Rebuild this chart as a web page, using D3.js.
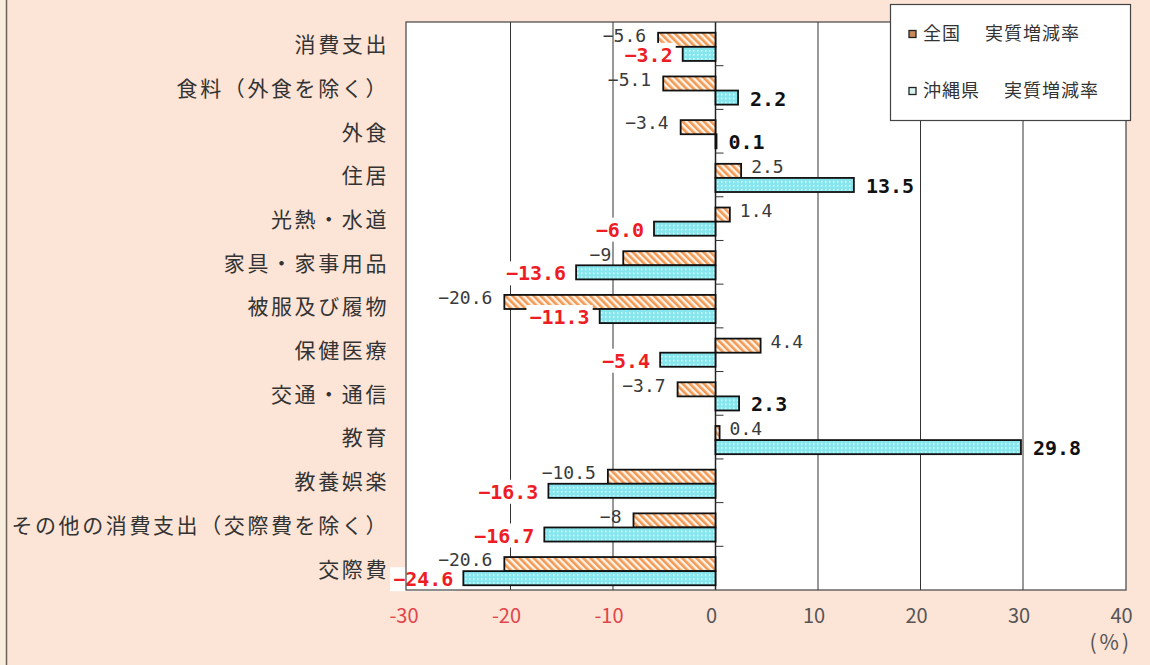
<!DOCTYPE html>
<html>
<head>
<meta charset="utf-8">
<script src="https://cdnjs.cloudflare.com/ajax/libs/d3/7.8.5/d3.min.js"></script>
<style>
  body { margin: 0; padding: 0; background: #fce4d6; }
  svg { display: block; }
</style>
</head>
<body>
<svg id="chart" width="1150" height="665"></svg>
<script>
var categories = ['消費支出', '食料（外食を除く）', '外食', '住居', '光熱・水道', '家具・家事用品',
  '被服及び履物', '保健医療', '交通・通信', '教育', '教養娯楽', 'その他の消費支出（交際費を除く）', '交際費'];
var nationalRates = [-5.6, -5.1, -3.4, 2.5, 1.4, -9, -20.6, 4.4, -3.7, 0.4, -10.5, -8, -20.6];
var okinawaRates = [-3.2, 2.2, 0.1, 13.5, -6.0, -13.6, -11.3, -5.4, 2.3, 29.8, -16.3, -16.7, -24.6];
var xTicks = [-30, -20, -10, 0, 10, 20, 30, 40];
var seriesKeys = ['national', 'okinawa'];
var seriesNames = ['全国　 実質増減率', '沖縄県　 実質増減率'];

var svg = d3.select('#chart');
var jpFont = '"Noto Sans CJK JP", "Noto Sans", sans-serif';
var numFont = '"DejaVu Sans Mono", monospace';

var plot = { left: 406, right: 1126, top: 22, bottom: 590 };

var x = d3.scaleLinear().domain([-30, 40]).range([408, 1125.5]);
var y = d3.scaleBand().domain(categories).range([plot.top, plot.bottom]);
var ySub = d3.scaleBand().domain(seriesKeys)
  .range([0, y.bandwidth()]).paddingOuter(0.55);

function minus(s) {
  return s.replace('-', '\u2212');
}

function patterns() {
  var defs = svg.append('defs');
  var hatch = defs.append('pattern')
    .attr('id', 'hatch')
    .attr('patternUnits', 'userSpaceOnUse')
    .attr('width', 5).attr('height', 5)
    .attr('patternTransform', 'rotate(-45)');
  hatch.append('rect').attr('width', 5).attr('height', 5).attr('fill', '#fff3e8');
  hatch.append('rect').attr('width', 2.6).attr('height', 5).attr('fill', '#f09a55');

  var dots = defs.append('pattern')
    .attr('id', 'dots')
    .attr('patternUnits', 'userSpaceOnUse')
    .attr('width', 4).attr('height', 4);
  dots.append('rect').attr('width', 4).attr('height', 4).attr('fill', '#86e6ee');
  dots.append('rect').attr('x', 1).attr('y', 1).attr('width', 1.5).attr('height', 1.5).attr('fill', '#e8fbfd');
}

function background() {
  svg.append('rect').attr('width', 1150).attr('height', 665).attr('fill', '#fce4d6');
  svg.append('rect').attr('width', 6).attr('height', 665).attr('fill', '#f8eedd');
  svg.append('line')
    .attr('x1', 6.5).attr('x2', 6.5).attr('y1', 0).attr('y2', 665)
    .attr('stroke', '#6b6258').attr('stroke-width', 1.5);
  svg.append('rect')
    .attr('x', plot.left).attr('y', plot.top)
    .attr('width', plot.right - plot.left).attr('height', plot.bottom - plot.top)
    .attr('fill', '#ffffff');
}

function grid() {
  svg.append('g').selectAll('line')
    .data(xTicks.filter(function(d) { return d > -30 && d < 40; }))
    .enter().append('line')
    .attr('x1', function(d) { return x(d); })
    .attr('x2', function(d) { return x(d); })
    .attr('y1', plot.top).attr('y2', plot.bottom)
    .attr('stroke', function(d) { return d === 0 ? '#222' : '#333'; })
    .attr('stroke-width', function(d) { return d === 0 ? 1.5 : 1; });

  // category ticks on the zero line
  svg.append('g').selectAll('line')
    .data(categories.slice(1))
    .enter().append('line')
    .attr('x1', x(0)).attr('x2', x(0) + 8)
    .attr('y1', function(d) { return y(d); })
    .attr('y2', function(d) { return y(d); })
    .attr('stroke', '#333');
}

function frame() {
  svg.append('rect')
    .attr('x', plot.left).attr('y', plot.top)
    .attr('width', plot.right - plot.left).attr('height', plot.bottom - plot.top)
    .attr('fill', 'none').attr('stroke', '#444').attr('stroke-width', 1.2);
}

function bars() {
  var rows = categories.map(function(c, i) {
    return { cat: c, national: nationalRates[i], okinawa: okinawaRates[i] };
  });
  var g = svg.append('g').selectAll('g')
    .data(rows).enter().append('g')
    .attr('transform', function(d) { return 'translate(0,' + (y(d.cat) + 3) + ')'; });

  g.selectAll('rect')
    .data(function(d) { return seriesKeys.map(function(k) { return { key: k, v: d[k] }; }); })
    .enter().append('rect')
    .attr('x', function(d) { return x(Math.min(0, d.v)); })
    .attr('y', function(d) { return ySub(d.key); })
    .attr('width', function(d) { return Math.abs(x(d.v) - x(0)); })
    .attr('height', ySub.bandwidth())
    .attr('fill', function(d) { return d.key === 'national' ? 'url(#hatch)' : 'url(#dots)'; })
    .attr('stroke', '#111')
    .attr('stroke-width', 1.8);

  // national labels
  g.append('text')
    .attr('x', function(d) { return d.national < 0 ? x(d.national) - 12 : x(d.national) + 10; })
    .attr('y', function(d) { return ySub('national') + ySub.bandwidth() / 2 - 4; })
    .attr('dy', '0.35em')
    .attr('text-anchor', function(d) { return d.national < 0 ? 'end' : 'start'; })
    .style('font-family', numFont)
    .style('font-size', '18px')
    .style('fill', '#3a3a3a')
    .text(function(d) { return minus(String(d.national)); });

  // okinawa labels with white box
  var ok = g.append('g');
  var okText = ok.append('text')
    .attr('x', function(d) { return d.okinawa < 0 ? x(d.okinawa) - 10 : x(d.okinawa) + 12; })
    .attr('y', function(d) { return ySub('okinawa') + ySub.bandwidth() / 2 + 1; })
    .attr('dy', '0.35em')
    .attr('text-anchor', function(d) { return d.okinawa < 0 ? 'end' : 'start'; })
    .style('font-family', numFont)
    .style('font-size', '20px')
    .style('font-weight', 'bold')
    .style('fill', function(d) { return d.okinawa < 0 ? '#ee1c25' : '#111'; })
    .text(function(d) { return minus(d.okinawa.toFixed(1)); });
  okText.each(function() {
    var b = this.getBBox();
    d3.select(this.parentNode).insert('rect', 'text')
      .attr('x', b.x - 3).attr('y', b.y)
      .attr('width', b.width + 6).attr('height', b.height)
      .attr('fill', '#ffffff');
  });
}

function categoryLabels() {
  svg.append('g').selectAll('text')
    .data(categories).enter().append('text')
    .attr('x', 389)
    .attr('y', function(d) { return y(d) + y.bandwidth() / 2 + 1; })
    .attr('dy', '0.35em')
    .attr('text-anchor', 'end')
    .style('font-family', jpFont)
    .style('font-size', '21px')
    .style('letter-spacing', '2.6px')
    .style('fill', '#333')
    .text(function(d) { return d; });
}

function xAxisLabels() {
  svg.append('g').selectAll('text')
    .data(xTicks).enter().append('text')
    .attr('x', function(d) { return x(d) - 4; })
    .attr('y', 616)
    .attr('dy', '0.35em')
    .attr('text-anchor', 'middle')
    .style('font-family', jpFont)
    .style('font-size', '20px')
    .style('fill', function(d) { return d < 0 ? '#e0454a' : '#555'; })
    .text(function(d) { return d; });

  svg.append('text')
    .attr('x', 1132).attr('y', 643)
    .attr('dy', '0.35em')
    .attr('text-anchor', 'end')
    .style('font-family', jpFont)
    .style('font-size', '21px')
    .style('letter-spacing', '3px')
    .style('fill', '#555')
    .text('(%)');
}

function legend() {
  var lg = svg.append('g');
  lg.append('rect')
    .attr('x', 890.5).attr('y', 4.5).attr('width', 240).attr('height', 116)
    .attr('fill', '#ffffff').attr('stroke', '#444').attr('stroke-width', 1.2);
  var item = lg.selectAll('g')
    .data(seriesKeys).enter().append('g')
    .attr('transform', function(d, i) { return 'translate(909,' + (34 + i * 57) + ')'; });
  item.append('rect')
    .attr('x', 0).attr('y', -3.5).attr('width', 7).attr('height', 7)
    .attr('fill', function(d) { return d === 'national' ? '#c98a5a' : '#d8f4f0'; })
    .attr('stroke', '#222').attr('stroke-width', 1.3);
  item.append('text')
    .attr('x', 14).attr('y', 0)
    .attr('dy', '0.35em')
    .style('font-family', jpFont)
    .style('font-size', '18px')
    .style('letter-spacing', '1px')
    .style('fill', '#333')
    .text(function(d, i) { return seriesNames[i]; });
}

function init() {
  patterns();
  background();
  grid();
  bars();
  frame();
  categoryLabels();
  xAxisLabels();
  legend();
}

init();
</script>
</body>
</html>
